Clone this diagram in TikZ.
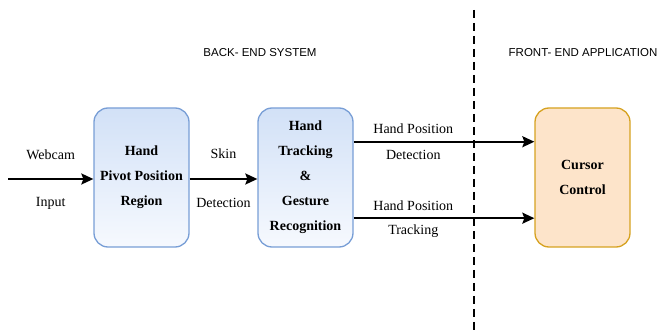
\documentclass[tikz,border=0pt]{standalone}
\usepackage{fontspec}
\setmainfont{Liberation Serif}
\newfontfamily\headfont{Liberation Sans}
\usetikzlibrary{calc,arrows.meta}

\definecolor{blueline}{RGB}{120,158,214}
\definecolor{bluetop}{RGB}{210,225,247}
\definecolor{bluebot}{RGB}{246,249,254}
\definecolor{orangeline}{RGB}{214,162,32}
\definecolor{orangefill}{RGB}{253,228,202}

\begin{document}
\begin{tikzpicture}[x=1pt,y=-1pt,
    block/.style={
      line width=1.3pt,
      rounded corners=14pt,
      minimum width=95pt,
      minimum height=139pt,
      align=center,
      font=\fontsize{14}{25}\selectfont\bfseries},
    blueblock/.style={block, draw=blueline, top color=bluetop, bottom color=bluebot},
    orangeblock/.style={block, draw=orangeline, fill=orangefill},
    flow/.style={line width=2pt, -{Stealth[length=12pt,width=11pt,inset=2pt]}},
    lbl/.style={font=\fontsize{14}{16}\selectfont},
    head/.style={font=\headfont\fontsize{11.5}{13}\selectfont},
    sep/.style={line width=1.3pt, dash pattern=on 8pt off 5pt}]

    \useasboundingbox (0,0) rectangle (665,331);

    \node[head] (backend)  at (260,53) {BACK- END SYSTEM};
    \node[head] (frontend) at (583,53) {FRONT- END APPLICATION};

    \draw[sep] (474,10) -- (474,331);

    \node[blueblock]   (pivot)  at (141.5,177.5) {Hand\\Pivot Position\\Region};
    \node[blueblock]   (track)  at (305.5,177.5) {Hand\\Tracking\\\&\\Gesture\\Recognition};
    \node[orangeblock] (cursor) at (582.5,177.5) {Cursor\\Control};

    \coordinate (webcam) at (8,179);

    \draw[flow] (webcam) -- node[lbl, yshift=24pt] {Webcam}
                            node[lbl, yshift=-24pt] {Input} (webcam -| pivot.west);
    \draw[flow] (webcam -| pivot.east) -- node[lbl, yshift=25pt] {Skin}
                            node[lbl, yshift=-24pt] {Detection} (webcam -| track.west);

    \draw[flow] ($(track.north east)!0.245!(track.south east)$)
      -- node[lbl, pos=0.33, yshift=13pt] {Hand Position}
         node[lbl, pos=0.33, yshift=-13pt] {Detection}
      ($(cursor.north west)!0.245!(cursor.south west)$);
    \draw[flow] ($(track.north east)!0.79!(track.south east)$)
      -- node[lbl, pos=0.33, yshift=12pt] {Hand Position}
         node[lbl, pos=0.33, yshift=-13pt] {Tracking}
      ($(cursor.north west)!0.79!(cursor.south west)$);
  \end{tikzpicture}
\end{document}
